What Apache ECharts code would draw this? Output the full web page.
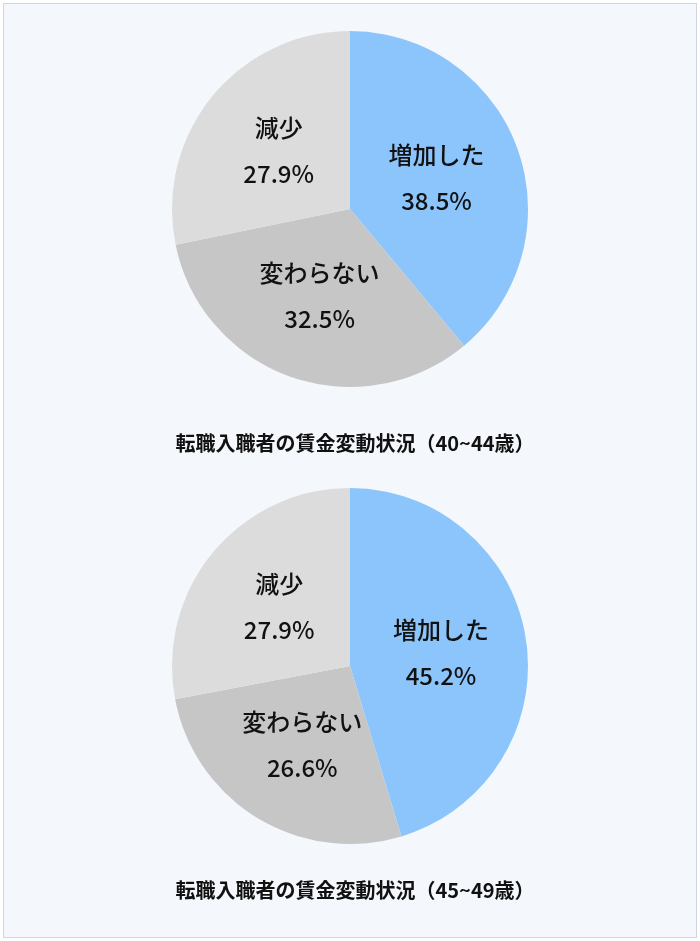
<!DOCTYPE html>
<html><head><meta charset="utf-8">
<script src="https://cdn.jsdelivr.net/npm/echarts@6/dist/echarts.min.js"></script>
<style>html,body{margin:0;padding:0;background:#fff}
#c{position:absolute;left:3px;top:3px;width:692px;height:933px;border:1px solid #cfd6dd;background:#f4f8fc}</style>
</head><body><div id="c"></div>
<script>
const categories = ["増加した","変わらない","減少"];
const values4044 = [38.5, 32.5, 27.9];
const values4549 = [45.2, 26.6, 27.9];
const titles = ["転職入職者の賃金変動状況（40~44歳）","転職入職者の賃金変動状況（45~49歳）"];
const colors = ["#8cc5fb","#c6c6c6","#dcdcdc"];
const chart = echarts.init(document.getElementById('c'));
function mk(vals, cy){
  return {type:'pie', center:[346, cy], radius:[0,178], startAngle:90, clockwise:true,
    silent:true, color:colors,
    label:{position:'inside', formatter:'{b}\n{c}%', color:'#111', fontSize:24, fontWeight:500, lineHeight:46,
      fontFamily:'Noto Sans CJK JP'},
    labelLine:{show:false},
    data:categories.map((n,i)=>({name:n,value:vals[i],itemStyle:{color:colors[i]}}))};
}
const ts = {fontSize:20,fontWeight:'bold',color:'#111',fontFamily:'Noto Sans CJK JP'};
chart.setOption({
  animation:false,
  title:[
    {text:titles[0], left:346, top:424, textAlign:'center', textStyle:ts},
    {text:titles[1], left:346, top:871, textAlign:'center', textStyle:ts}
  ],
  series:[mk(values4044,205), mk(values4549,662)]
});
</script></body></html>
